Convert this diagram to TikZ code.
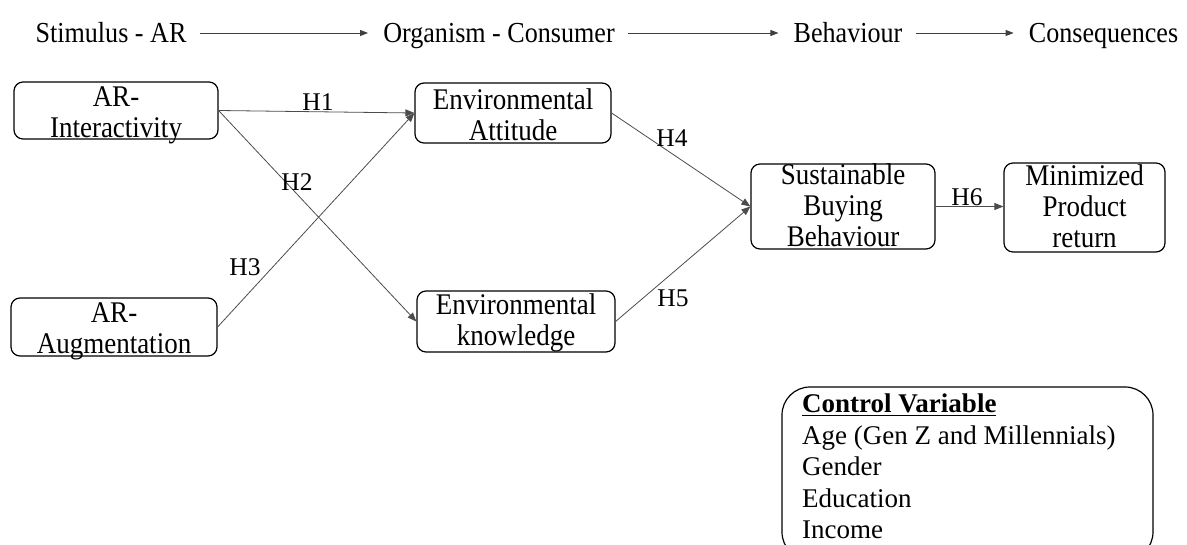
\documentclass[tikz,border=0pt]{standalone}
\usepackage{fontspec}
\setmainfont{Liberation Serif}
\newfontfamily\tallserif{Liberation Serif}[FakeStretch=0.9]
\usetikzlibrary{arrows.meta}
\begin{document}
\begin{tikzpicture}[x=1pt,y=-1pt,
  every node/.style={font=\fontsize{27}{31.5}\selectfont},
  box/.style={draw=black, line width=1.2pt, rounded corners=9pt, inner sep=0pt},
  boxtext/.style={align=center, inner sep=0pt, font=\tallserif\fontsize{30}{31}\selectfont},
  link/.style={draw=black!70, line width=0.8pt, -{Triangle[length=9pt,width=7pt]}},
  flow/.style={draw=black!75, line width=0.8pt, -{Triangle[length=8pt,width=6pt]},
               shorten <=13pt, shorten >=15pt},
  hyp/.style={inner sep=0pt, font=\fontsize{25.5}{30}\selectfont},
  stage/.style={inner sep=0pt, text height=25pt, text depth=6pt,
                font=\tallserif\fontsize{29}{32}\selectfont}]

\clip (0,0) rectangle (1187,545);

% stages of the S-O-R framework
\node[stage] (stim) at (111,33) {Stimulus - AR};
\node[stage] (org)  at (499,33) {Organism - Consumer};
\node[stage] (beh)  at (848,33) {Behaviour};
\node[stage] (cons) at (1103.5,33) {Consequences};
\draw[flow] (stim) -- (org);
\draw[flow] (org) -- (beh);
\draw[flow] (beh) -- (cons);

% constructs
\node[box, minimum width=204pt, minimum height=57pt] (ai) at (116,110.5) {};
\node[boxtext] (aitxt) at ([yshift=-5.3pt]ai.center) {AR-\\Interactivity};

\node[box, minimum width=206pt, minimum height=58pt] (aa) at (114,327) {};
\node[boxtext] (aatxt) at ([yshift=-4.8pt]aa.center) {AR-\\Augmentation};

\node[box, minimum width=196pt, minimum height=60pt] (ea) at (513,113) {};
\node[boxtext] (eatxt) at ([yshift=-2.2pt]ea.center) {Environmental\\Attitude};

\node[box, minimum width=198pt, minimum height=61pt] (ek) at (516,321.5) {};
\node[boxtext] (ektxt) at ([yshift=-1pt]ek.center) {Environmental\\knowledge};

\node[box, minimum width=184pt, minimum height=85pt] (sb) at (843,206.5) {};
\node[boxtext] (sbtxt) at ([yshift=1pt]sb.center) {Sustainable\\Buying\\Behaviour};

\node[box, minimum width=161pt, minimum height=89pt] (mp) at (1084.5,207.5) {};
\node[boxtext] (mptxt) at ([yshift=1pt]mp.center) {Minimized\\Product\\return};

% hypothesised paths
\draw[link] (ai.east) -- (ea.west);
\draw[link] (ai.east) -- (ek.west);
\draw[link] (aa.east) -- (ea.west);
\draw[link] (ea.east) -- (sb.west);
\draw[link] (ek.east) -- (sb.west);
\draw[link] (sb.east) -- (sb.east -| mp.west);

\node[hyp] (h1) at (318,102) {H1};
\node[hyp] (h2) at (297,182) {H2};
\node[hyp] (h3) at (245,267) {H3};
\node[hyp] (h4) at (672,138) {H4};
\node[hyp] (h5) at (673,298) {H5};
\node[hyp] (h6) at (967,197) {H6};

% control variables (the panel runs past the lower edge)
\node[draw=black, line width=1.2pt, rounded corners=28pt, inner sep=0pt,
      minimum width=371pt, minimum height=173pt] (cv) at (967.5,473.5) {};
\node[align=left, inner sep=0pt, anchor=north west] (cvtxt) at (802,394)
  {\underline{\textbf{Control Variable}}\\
   Age (Gen Z and Millennials)\\
   Gender\\
   Education\\
   Income};
\end{tikzpicture}
\end{document}
